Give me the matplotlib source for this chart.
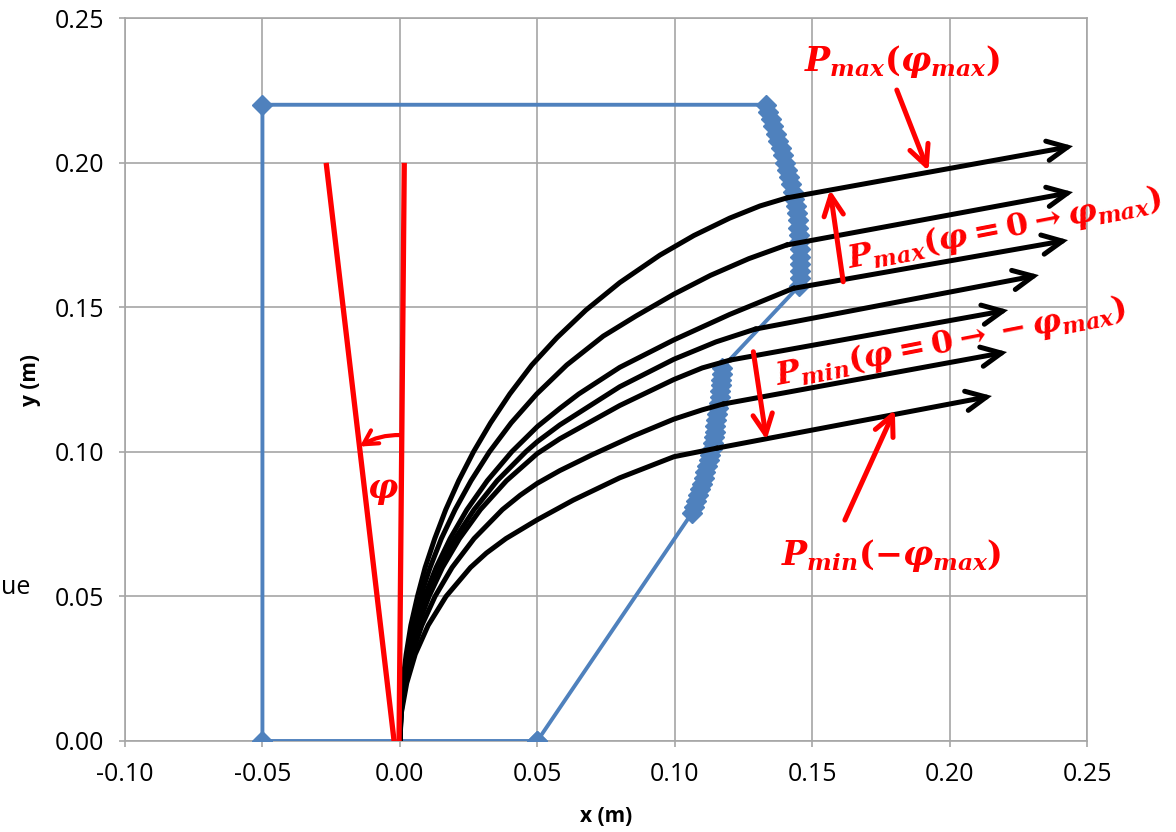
import matplotlib
matplotlib.use('Agg')
import numpy as np
import matplotlib.pyplot as plt

plt.rcParams['font.family'] = ['Open Sans', 'DejaVu Sans']
plt.rcParams['axes.unicode_minus'] = False
plt.rcParams['mathtext.fontset'] = 'custom'
plt.rcParams['mathtext.it'] = 'DejaVu Serif:italic:bold'
plt.rcParams['mathtext.rm'] = 'DejaVu Serif:bold'
plt.rcParams['mathtext.bf'] = 'DejaVu Serif:bold'

# workspace boundary (blue series)
blob_top_x = [0.1332, 0.1341, 0.1350, 0.1359, 0.1368, 0.1377, 0.1386, 0.1394, 0.1402,
              0.1410, 0.1417, 0.1424, 0.1430, 0.1435, 0.1440, 0.1444, 0.1447, 0.1450,
              0.1452, 0.1454, 0.1455, 0.1456, 0.1457, 0.1457, 0.1456, 0.1454]
blob_top_y = [0.2200, 0.2175, 0.2150, 0.2125, 0.2100, 0.2075, 0.2050, 0.2025, 0.2000,
              0.1975, 0.1950, 0.1925, 0.1900, 0.1875, 0.1850, 0.1825, 0.1800, 0.1775,
              0.1750, 0.1725, 0.1700, 0.1675, 0.1650, 0.1625, 0.1600, 0.1575]
blob_low_x = [0.1172, 0.1171, 0.1170, 0.1168, 0.1166, 0.1164, 0.1161, 0.1158, 0.1155,
              0.1151, 0.1148, 0.1145, 0.1142, 0.1138, 0.1134, 0.1129, 0.1124, 0.1118,
              0.1112, 0.1106, 0.1099, 0.1092, 0.1085, 0.1078, 0.1071, 0.1064]
blob_low_y = [0.1290, 0.1270, 0.1250, 0.1230, 0.1210, 0.1190, 0.1170, 0.1150, 0.1130,
              0.1110, 0.1090, 0.1070, 0.1050, 0.1030, 0.1010, 0.0990, 0.0970, 0.0950,
              0.0930, 0.0910, 0.0890, 0.0870, 0.0850, 0.0830, 0.0810, 0.0790]
bound_x = [0.05, -0.05, -0.05] + blob_top_x + blob_low_x + [0.05]
bound_y = [0.0, 0.0, 0.22] + blob_top_y + blob_low_y + [0.0]

# finger curves (black), each ends at a kink where the straight arrow starts
c1_x = [0, 0.00025, 0.0010, 0.0023, 0.0040, 0.0064, 0.0092, 0.0127, 0.0167, 0.0214, 0.0268,
        0.0330, 0.0400, 0.0480, 0.0572, 0.0677, 0.0800, 0.0946, 0.1070, 0.1200, 0.1310, 0.1408]
c1_y = [0, 0.010, 0.020, 0.030, 0.040, 0.050, 0.060, 0.070, 0.080, 0.090, 0.100,
        0.110, 0.120, 0.130, 0.1395, 0.1490, 0.1585, 0.1680, 0.1748, 0.1808, 0.1850, 0.1878]
c2_x = [0, 0.0003, 0.0012, 0.0027, 0.0048, 0.0075, 0.0110, 0.0151, 0.0201, 0.0259, 0.0326,
        0.0405, 0.0498, 0.0607, 0.0740, 0.0860, 0.0997, 0.1130, 0.1270, 0.1407]
c2_y = [0, 0.010, 0.020, 0.030, 0.040, 0.050, 0.060, 0.070, 0.080, 0.090, 0.100,
        0.110, 0.120, 0.130, 0.1400, 0.1470, 0.1545, 0.1610, 0.1668, 0.1715]
c3_x = [0, 0.00035, 0.0014, 0.0032, 0.0057, 0.0090, 0.0132, 0.0183, 0.0244, 0.0318, 0.0407,
        0.0500, 0.0582, 0.0651, 0.0800, 0.0997, 0.1200, 0.1431]
c3_y = [0, 0.010, 0.020, 0.030, 0.040, 0.050, 0.060, 0.070, 0.080, 0.090, 0.100,
        0.1087, 0.1150, 0.1200, 0.1292, 0.1387, 0.1475, 0.1565]
c4_x = [0, 0.0004, 0.0015, 0.0035, 0.0062, 0.0098, 0.0144, 0.0201, 0.0270, 0.0354, 0.0458,
        0.0500, 0.0582, 0.0800, 0.0997, 0.1150, 0.1292]
c4_y = [0, 0.010, 0.020, 0.030, 0.040, 0.050, 0.060, 0.070, 0.080, 0.090, 0.100,
        0.1035, 0.1093, 0.1225, 0.1320, 0.1380, 0.1424]
c5_x = [0, 0.0004, 0.0016, 0.0037, 0.0066, 0.0106, 0.0155, 0.0217, 0.0293, 0.0388,
        0.0500, 0.0582, 0.0800, 0.0997, 0.1100, 0.1201]
c5_y = [0, 0.010, 0.020, 0.030, 0.040, 0.050, 0.060, 0.070, 0.080, 0.090,
        0.0994, 0.1045, 0.1160, 0.1250, 0.1290, 0.1317]
c6_x = [0, 0.0005, 0.0019, 0.0044, 0.0080, 0.0128, 0.0190, 0.0270, 0.0373, 0.0438,
        0.0500, 0.0582, 0.0700, 0.0850, 0.0997, 0.1100, 0.1175]
c6_y = [0, 0.010, 0.020, 0.030, 0.040, 0.050, 0.060, 0.070, 0.080, 0.085,
        0.0891, 0.0935, 0.0990, 0.1055, 0.1113, 0.1145, 0.1165]
c7_x = [0, 0.0006, 0.0025, 0.0056, 0.0103, 0.0168, 0.0257, 0.0315, 0.0386,
        0.0500, 0.0631, 0.0800, 0.0997, 0.1150]
c7_y = [0, 0.010, 0.020, 0.030, 0.040, 0.050, 0.060, 0.065, 0.070,
        0.0765, 0.0833, 0.0910, 0.0983, 0.1012]
curves = [(c1_x, c1_y), (c2_x, c2_y), (c3_x, c3_y), (c4_x, c4_y),
          (c5_x, c5_y), (c6_x, c6_y), (c7_x, c7_y)]
tip_x = [0.2449, 0.2449, 0.2431, 0.2325, 0.2213, 0.2209, 0.2154]
tip_y = [0.2057, 0.1898, 0.1732, 0.1611, 0.1490, 0.1345, 0.1193]

# base angle lines (red)
phi_x0 = [-0.0003, -0.0021]
phi_x1 = [0.0016, -0.0267]
phi_y1 = [0.199, 0.199]

fig = plt.figure(figsize=(11.76, 8.32), dpi=100)
ax = fig.add_axes([125 / 1176, 91 / 832, 962 / 1176, 723 / 832])

blue = '#4F81BD'
ax.plot(bound_x, bound_y, color=blue, lw=2.8, marker='D', ms=10, mfc=blue, mec=blue, zorder=3)

arrow_k = dict(arrowstyle='->,head_length=1.45,head_width=0.7', lw=3.6, color='black',
               shrinkA=0, shrinkB=0, joinstyle='miter')
for (cx, cy), tx, ty in zip(curves, tip_x, tip_y):
    ax.plot(cx, cy, color='black', lw=3.6, solid_joinstyle='round', zorder=4)
    ax.annotate('', xy=(tx, ty), xytext=(cx[-1], cy[-1]), arrowprops=arrow_k, zorder=4)

for x0, x1, y1 in zip(phi_x0, phi_x1, phi_y1):
    ax.plot([x0, x1], [0, y1], color='red', lw=3.8, zorder=5)

arrow_r = dict(arrowstyle='->,head_length=1.45,head_width=0.7', lw=3.6, color='red',
               shrinkA=0, shrinkB=0)
ax.annotate('', xy=(-0.0146, 0.1018), xytext=(0.0003, 0.1058),
            arrowprops=dict(arrowstyle='->,head_length=1.0,head_width=0.55', lw=3.0, color='red',
                            shrinkA=0, shrinkB=0, connectionstyle='arc3,rad=0.15'), zorder=5)
ax.text(-0.006, 0.0866, r'$\varphi$', color='red', fontsize=24, ha='center', va='center', zorder=5)

ax.annotate('', xy=(0.1923, 0.1971), xytext=(0.1808, 0.2251), arrowprops=arrow_r, zorder=5)
ax.annotate('', xy=(0.1565, 0.1906), xytext=(0.1613, 0.1588), arrowprops=arrow_r, zorder=5)
ax.annotate('', xy=(0.1334, 0.1041), xytext=(0.1286, 0.1346), arrowprops=arrow_r, zorder=5)
ax.annotate('', xy=(0.1801, 0.1145), xytext=(0.1619, 0.0764), arrowprops=arrow_r, zorder=5)

ax.text(0.1826, 0.2351, r'$P_{max}(\varphi_{max})$', color='red', fontsize=24,
        ha='center', va='center', clip_on=False, zorder=6)
ax.text(0.2200, 0.1770, r'$P_{max}(\varphi=0\rightarrow\varphi_{max})$', color='red', fontsize=23,
        ha='center', va='center', rotation=11, clip_on=False, zorder=6)
ax.text(0.2005, 0.1378, r'$P_{min}(\varphi=0\rightarrow-\varphi_{max})$', color='red', fontsize=23,
        ha='center', va='center', rotation=11, clip_on=False, zorder=6)
ax.text(0.1787, 0.0640, r'$P_{min}(-\varphi_{max})$', color='red', fontsize=24,
        ha='center', va='center', clip_on=False, zorder=6)

ax.set_xlim(-0.10, 0.25)
ax.set_ylim(0, 0.25)
ax.set_xticks(np.arange(-0.10, 0.2501, 0.05))
ax.set_yticks(np.arange(0, 0.2501, 0.05))
ax.xaxis.set_major_formatter(plt.FormatStrFormatter('%.2f'))
ax.yaxis.set_major_formatter(plt.FormatStrFormatter('%.2f'))
ax.grid(True, color='#A6A6A6', lw=1.2, zorder=0)
ax.set_axisbelow(True)
for s in ax.spines.values():
    s.set_color('#A6A6A6')
    s.set_linewidth(1.2)
ax.tick_params(length=4, width=1.2, color='#A6A6A6', labelsize=18, pad=11)
ax.set_xlabel('x (m)', fontsize=15, fontweight='bold', labelpad=14)
ax.set_ylabel('y (m)', fontsize=15, fontweight='bold', labelpad=10)

fig.text(0.001, 1 - 587 / 832, 'ue', ha='left', va='center', fontsize=18)

fig.savefig('out.png', dpi=100)
